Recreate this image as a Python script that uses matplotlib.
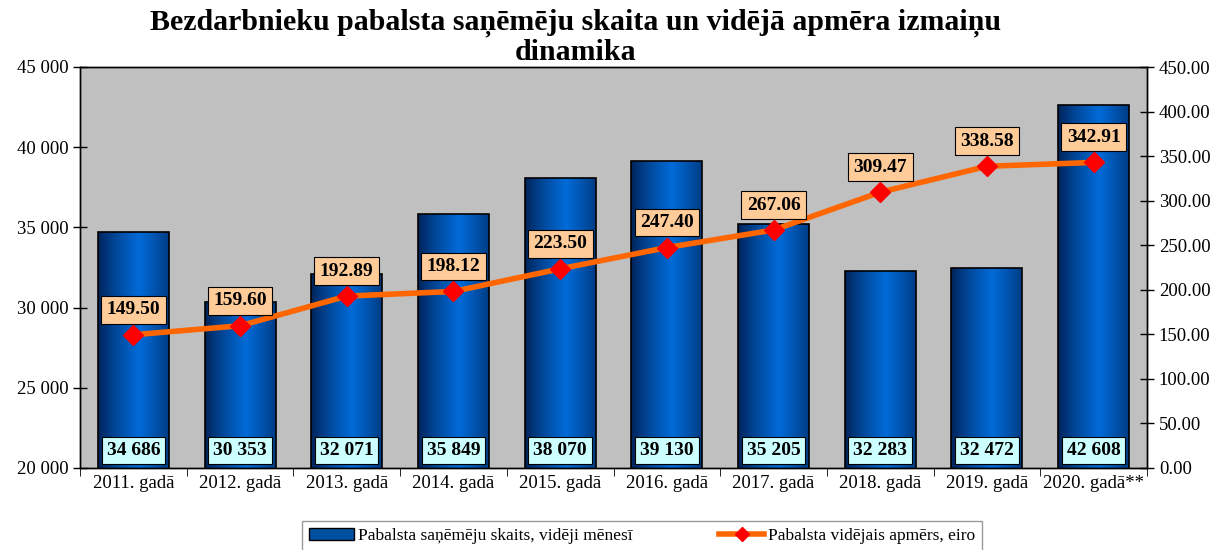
import numpy as np
import matplotlib
matplotlib.use("Agg")
import matplotlib.pyplot as plt
from matplotlib.patches import Patch
from matplotlib.lines import Line2D

plt.rcParams['font.family'] = ['Liberation Serif', 'DejaVu Serif']

# data
years = ["2011. gadā", "2012. gadā", "2013. gadā", "2014. gadā", "2015. gadā",
         "2016. gadā", "2017. gadā", "2018. gadā", "2019. gadā", "2020. gadā**"]
recipients = [34686, 30353, 32071, 35849, 38070, 39130, 35205, 32283, 32472, 42608]
avg_benefit = [149.50, 159.60, 192.89, 198.12, 223.50, 247.40, 267.06, 309.47, 338.58, 342.91]

title = "Bezdarbnieku pabalsta saņēmēju skaita un vidējā apmēra izmaiņu\ndinamika"
bar_label = "Pabalsta saņēmēju skaits, vidēji mēnesī"
line_label = "Pabalsta vidējais apmērs, eiro"


def fmt_thousands(v):
    return f"{v:,.0f}".replace(",", " ")


fig = plt.figure(figsize=(12.19, 5.5), dpi=100)
ax = fig.add_axes([80 / 1219, 82 / 550, 1067 / 1219, 401 / 550])
ax.set_facecolor("#C0C0C0")

x = np.arange(len(years))
bars = ax.bar(x, recipients, width=0.665, bottom=0, facecolor="none",
              edgecolor="black", linewidth=1.2, zorder=3)

# cylinder-like horizontal gradient inside each bar
t = np.linspace(0, 1, 256)
shade = np.clip(1 - np.abs(t - 0.58) / 0.58, 0, 1) ** 0.8
dark = np.array([0.0, 0.13, 0.33])
light = np.array([0.0, 0.42, 0.85])
grad = dark[None, :] + shade[:, None] * (light - dark)[None, :]
grad = grad[None, :, :]
for b in bars:
    x0 = b.get_x()
    im = ax.imshow(grad, extent=[x0, x0 + b.get_width(), 20000, b.get_height()],
                   aspect="auto", zorder=2, interpolation="bilinear")
    im.set_clip_path(b)

ax.set_xlim(-0.5, len(years) - 0.5)
ax.set_ylim(20000, 45000)
ax.set_yticks(np.arange(20000, 45001, 5000))
ax.set_yticklabels([fmt_thousands(v) for v in np.arange(20000, 45001, 5000)])
ax.set_xticks(x)
ax.set_xticklabels(years)
ax.set_xticks(np.arange(-0.5, len(years), 1), minor=True)
ax.tick_params(axis="x", which="major", length=0, labelsize=13.5, pad=5)
ax.tick_params(axis="x", which="minor", length=6, direction="out")
ax.tick_params(axis="y", direction="inout", length=10, labelsize=13.5, width=1)

for i, v in enumerate(recipients):
    ax.text(i, 21100, fmt_thousands(v), ha="center", va="center", fontsize=14,
            fontweight="bold", zorder=5,
            bbox=dict(boxstyle="square,pad=0.25", facecolor="#CCFFFF",
                      edgecolor="black", linewidth=0.8))

ax2 = ax.twinx()
ax2.plot(x, avg_benefit, color="#FF6600", linewidth=4, zorder=4)
ax2.plot(x, avg_benefit, linestyle="none", marker="D", markersize=10,
         color="#FF0000", zorder=5)
ax2.set_ylim(0, 450)
ax2.set_yticks(np.arange(0, 451, 50))
ax2.set_yticklabels([f"{v:.2f}" for v in np.arange(0, 451, 50)])
ax2.tick_params(axis="y", direction="inout", length=10, labelsize=13.5, width=1)

for i, v in enumerate(avg_benefit):
    ax2.annotate(f"{v:.2f}", (i, v), xytext=(0, 18), textcoords="offset points",
                 ha="center", va="center", fontsize=14, fontweight="bold",
                 zorder=6,
                 bbox=dict(boxstyle="square,pad=0.28", facecolor="#FFCC99",
                           edgecolor="black", linewidth=0.8))

for a in (ax, ax2):
    for s in a.spines.values():
        s.set_color("black")
        s.set_linewidth(1)

fig.text(576 / 1219, 0.984, title, ha="center", va="top", fontsize=21.5,
         fontweight="bold", linespacing=1.1, zorder=10)

handles = [Patch(facecolor="#0050A0", edgecolor="black", linewidth=1),
           Line2D([0], [0], color="#FF6600", linewidth=4, marker="D",
                  markersize=7, markerfacecolor="#FF0000",
                  markeredgecolor="#FF0000")]
fig.legend(handles, [bar_label, line_label], loc="upper center",
           bbox_to_anchor=(642 / 1219, 38 / 550), ncol=2, fontsize=12.5,
           frameon=True, fancybox=False, edgecolor="#808080",
           borderpad=0.4, columnspacing=5, handlelength=2.6,
           handletextpad=0.2)

fig.savefig("out.png", dpi=100)
